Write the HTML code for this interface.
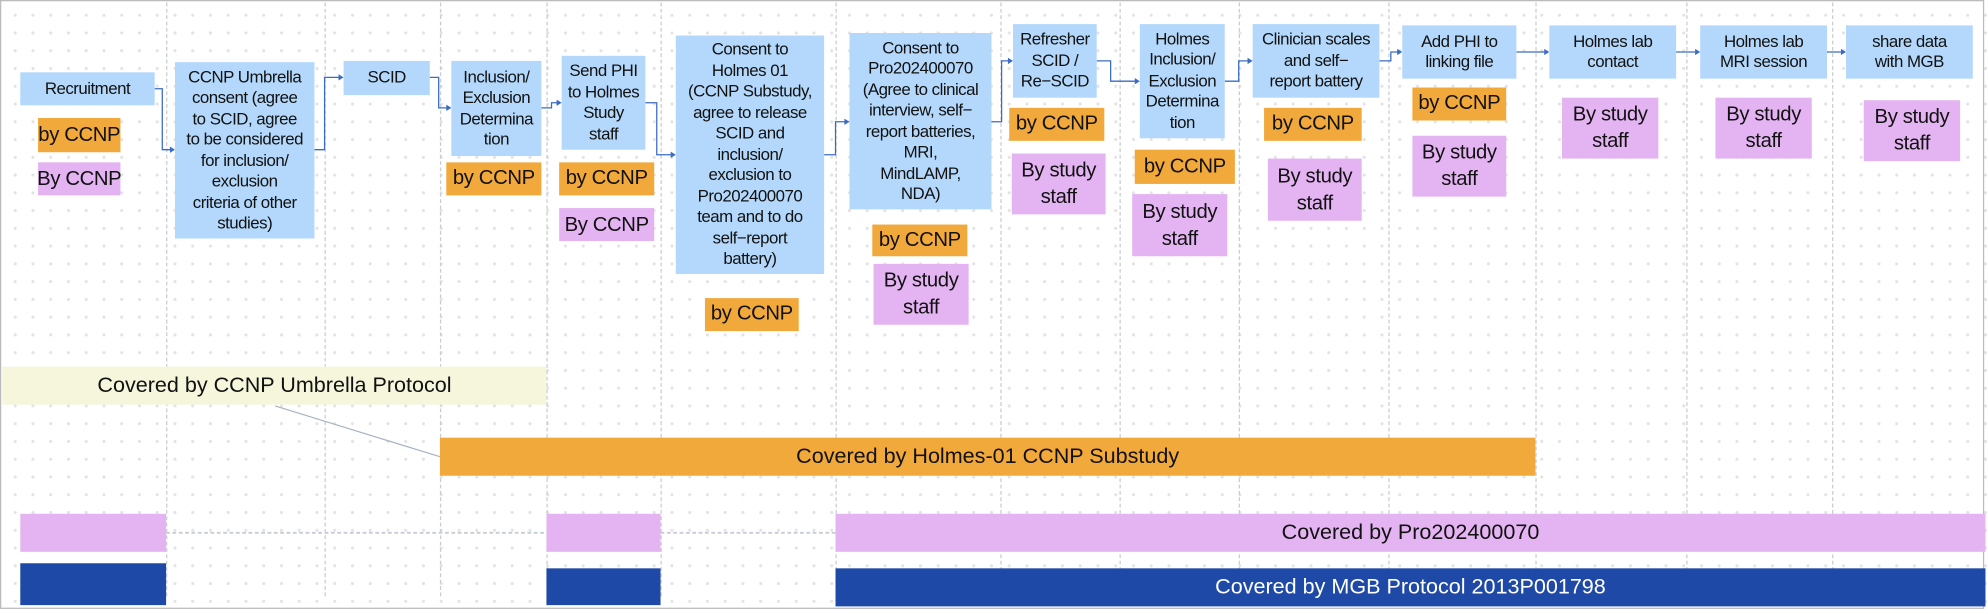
<!DOCTYPE html>
<html><head><meta charset="utf-8"><style>
html,body{margin:0;padding:0;width:1988px;height:614px;overflow:hidden;background:#fff}
#w{position:absolute;left:0;top:0;width:1568px;height:484px;transform-origin:0 0;transform:scale(1.26786,1.2686);
background-color:#fff;background-image:radial-gradient(circle,#e3e3e3 1.1px,transparent 1.4px);background-size:14px 14px;background-position:5px 5px;font-family:"Liberation Sans",sans-serif;color:#111}
.b{position:absolute;display:flex;align-items:center;justify-content:center;text-align:center;box-sizing:border-box;line-height:16.5px;font-size:13.3px;letter-spacing:-0.4px;white-space:nowrap}
.bl{background:#b3d8fb}
.o{background:#f2a93b;font-size:16px;line-height:18px;letter-spacing:-0.3px}
.p{background:#e4b4f2;font-size:16px;line-height:21px;letter-spacing:-0.3px}
.v{position:absolute;top:2px;height:468px;border-left:1px dashed #c8cdd3;width:0}
.frame{position:absolute;left:0;top:0;width:1565px;height:480px;border:1px solid #bbb;box-sizing:border-box}
</style></head><body><div id="w">
<div class="frame"></div>
<div class="v" style="left:131px"></div><div class="v" style="left:256px"></div><div class="v" style="left:347px"></div><div class="v" style="left:431px"></div><div class="v" style="left:521px"></div><div class="v" style="left:659px"></div><div class="v" style="left:789px"></div><div class="v" style="left:883px"></div><div class="v" style="left:977px"></div><div class="v" style="left:1095px"></div><div class="v" style="left:1211px"></div><div class="v" style="left:1330px"></div><div class="v" style="left:1445px"></div>

<svg style="position:absolute;left:0;top:0" width="1568" height="484">
<g fill="none" stroke="#3b6cc4" stroke-width="1">
<path d="M122 70 H128 V118 H136"/><path d="M248 118 H256 V61 H269"/><path d="M339 61 H346 V85 H354"/>
<path d="M427 85 H435 V81 H441"/><path d="M509 81 H518 V122 H531"/><path d="M650 122 H659 V96 H668"/>
<path d="M782 96 H790 V48 H797"/><path d="M865 48 H876 V64 H897"/><path d="M966 64 H977 V48 H986"/>
<path d="M1088 48 H1097 V41 H1104"/><path d="M1196 41 H1220"/><path d="M1322 41 H1339"/><path d="M1441 41 H1454"/>
</g>
<g fill="#3b6cc4">
<path d="M138 118 l-4 -2.5 v5z"/><path d="M271 61 l-4 -2.5 v5z"/><path d="M356 85 l-4 -2.5 v5z"/><path d="M443 81 l-4 -2.5 v5z"/><path d="M533 122 l-4 -2.5 v5z"/><path d="M670 96 l-4 -2.5 v5z"/><path d="M799 48 l-4 -2.5 v5z"/><path d="M899 64 l-4 -2.5 v5z"/><path d="M988 48 l-4 -2.5 v5z"/><path d="M1106 41 l-4 -2.5 v5z"/><path d="M1222 41 l-4 -2.5 v5z"/><path d="M1341 41 l-4 -2.5 v5z"/><path d="M1456 41 l-4 -2.5 v5z"/>
</g>
<line x1="217" y1="320" x2="347" y2="360" stroke="#a8b4c4" stroke-width="1"/>
<line x1="131" y1="420" x2="431" y2="420" stroke="#c8cdd3" stroke-width="1.5" stroke-dasharray="3 2"/>
<line x1="521" y1="420" x2="659" y2="420" stroke="#c8cdd3" stroke-width="1.5" stroke-dasharray="3 2"/>
</svg>

<div class="b bl" style="left:16px;top:57px;width:106px;height:26px">Recruitment</div>
<div class="b o" style="left:30px;top:93px;width:65px;height:27px">by CCNP</div>
<div class="b p" style="left:30px;top:128px;width:65px;height:26px">By CCNP</div>

<div class="b bl" style="left:138px;top:49px;width:110px;height:139px">CCNP Umbrella<br>consent (agree<br>to SCID, agree<br>to be considered<br>for inclusion/<br>exclusion<br>criteria of other<br>studies)</div>
<div class="b bl" style="left:271px;top:48px;width:68px;height:27px">SCID</div>
<div class="b bl" style="left:356px;top:48px;width:71px;height:75px">Inclusion/<br>Exclusion<br>Determina<br>tion</div>
<div class="b o" style="left:352px;top:128px;width:75px;height:26px">by CCNP</div>
<div class="b bl" style="left:443px;top:44px;width:66px;height:74px">Send PHI<br>to Holmes<br>Study<br>staff</div>
<div class="b o" style="left:441px;top:128px;width:75px;height:26px">by CCNP</div>
<div class="b p" style="left:441px;top:164px;width:75px;height:26px">By CCNP</div>

<div class="b bl" style="left:533px;top:28px;width:117px;height:188px">Consent to<br>Holmes 01<br>(CCNP Substudy,<br>agree to release<br>SCID and<br>inclusion/<br>exclusion to<br>Pro202400070<br>team and to do<br>self−report<br>battery)</div>
<div class="b o" style="left:556px;top:235px;width:74px;height:26px">by CCNP</div>

<div class="b bl" style="left:670px;top:26px;width:112px;height:139px">Consent to<br>Pro202400070<br>(Agree to clinical<br>interview, self−<br>report batteries,<br>MRI,<br>MindLAMP,<br>NDA)</div>
<div class="b o" style="left:688px;top:177px;width:75px;height:25px">by CCNP</div>
<div class="b p" style="left:689px;top:208px;width:75px;height:48px">By study<br>staff</div>

<div class="b bl" style="left:799px;top:19px;width:66px;height:58px">Refresher<br>SCID /<br>Re−SCID</div>
<div class="b o" style="left:796px;top:85px;width:75px;height:26px">by CCNP</div>
<div class="b p" style="left:798px;top:121px;width:74px;height:48px">By study<br>staff</div>

<div class="b bl" style="left:899px;top:19px;width:67px;height:90px">Holmes<br>Inclusion/<br>Exclusion<br>Determina<br>tion</div>
<div class="b o" style="left:895px;top:118px;width:79px;height:27px">by CCNP</div>
<div class="b p" style="left:893px;top:153px;width:75px;height:49px">By study<br>staff</div>

<div class="b bl" style="left:988px;top:19px;width:100px;height:58px">Clinician scales<br>and self−<br>report battery</div>
<div class="b o" style="left:997px;top:85px;width:77px;height:26px">by CCNP</div>
<div class="b p" style="left:1000px;top:125px;width:74px;height:49px">By study<br>staff</div>

<div class="b bl" style="left:1106px;top:20px;width:90px;height:42px">Add PHI to<br>linking file</div>
<div class="b o" style="left:1114px;top:69px;width:74px;height:26px">by CCNP</div>
<div class="b p" style="left:1114px;top:107px;width:74px;height:48px">By study<br>staff</div>

<div class="b bl" style="left:1222px;top:20px;width:100px;height:42px">Holmes lab<br>contact</div>
<div class="b p" style="left:1232px;top:77px;width:76px;height:48px">By study<br>staff</div>
<div class="b bl" style="left:1341px;top:20px;width:100px;height:42px">Holmes lab<br>MRI session</div>
<div class="b p" style="left:1353px;top:77px;width:76px;height:48px">By study<br>staff</div>
<div class="b bl" style="left:1456px;top:20px;width:100px;height:42px">share data<br>with MGB</div>
<div class="b p" style="left:1470px;top:79px;width:76px;height:48px">By study<br>staff</div>

<div class="b" style="left:2px;top:289px;width:429px;height:30px;background:#f6f6dd;font-size:17px;letter-spacing:0">Covered by CCNP Umbrella Protocol</div>
<div class="b" style="left:347px;top:345px;width:864px;height:30px;background:#f2a93b;font-size:17px;letter-spacing:0">Covered by Holmes-01 CCNP Substudy</div>

<div class="b" style="left:16px;top:405px;width:115px;height:30px;background:#e4b4f2"></div>
<div class="b" style="left:431px;top:405px;width:90px;height:30px;background:#e4b4f2"></div>
<div class="b" style="left:659px;top:405px;width:907px;height:30px;background:#e4b4f2;font-size:17px;letter-spacing:0">Covered by Pro202400070</div>

<div class="b" style="left:16px;top:444px;width:115px;height:33px;background:#1e49a7"></div>
<div class="b" style="left:431px;top:448px;width:90px;height:29px;background:#1e49a7"></div>
<div class="b" style="left:659px;top:448px;width:907px;height:30px;background:#1e49a7;color:#fff;font-size:17px;letter-spacing:0">Covered by MGB Protocol 2013P001798</div>
</div></body></html>
